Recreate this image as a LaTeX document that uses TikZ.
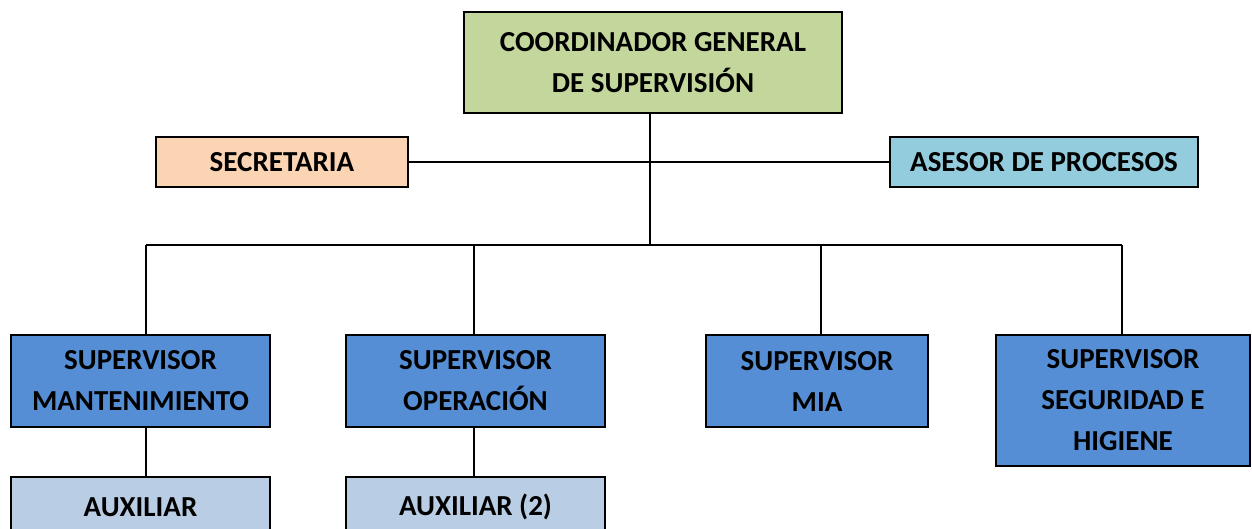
\documentclass[tikz,border=0pt]{standalone}
\usepackage{fontspec}
\setmainfont{Carlito}
\definecolor{cgreen}{HTML}{C3D69B}
\definecolor{corange}{HTML}{FBD4B4}
\definecolor{cteal}{HTML}{93CDDD}
\definecolor{cblue}{HTML}{558ED5}
\definecolor{clight}{HTML}{B9CDE5}
\tikzset{
  box/.style={draw=black, line width=1.6pt, rectangle, align=center, inner sep=0pt,
    font=\fontsize{29}{41}\selectfont\bfseries},
  conn/.style={draw=black, line width=1.3pt}
}
\begin{document}
\begin{tikzpicture}[x=1pt,y=-1pt]
\useasboundingbox (0,0) rectangle (1252,528);
\node[box, fill=cgreen, minimum width=378pt, minimum height=101pt] (coord) at (653,62.5) {COORDINADOR GENERAL\\DE SUPERVISIÓN};
\node[box, fill=corange, minimum width=252pt, minimum height=50pt] (sec) at (282,162) {SECRETARIA};
\node[box, fill=cteal, minimum width=308pt, minimum height=50pt] (ase) at (1044,162) {ASESOR DE PROCESOS};
\node[box, fill=cblue, minimum width=259pt, minimum height=92pt] (mant) at (140.5,381) {SUPERVISOR\\MANTENIMIENTO};
\node[box, fill=cblue, minimum width=259pt, minimum height=92pt] (oper) at (475.5,381) {SUPERVISOR\\OPERACIÓN};
\node[box, fill=cblue, minimum width=222pt, minimum height=92pt] (mia) at (817,381) {SUPERVISOR\\MIA};
\node[box, fill=cblue, minimum width=254pt, minimum height=131pt] (seg) at (1123,400.5) {SUPERVISOR\\SEGURIDAD E\\HIGIENE};
\node[box, fill=clight, minimum width=259pt, minimum height=60pt] (aux1) at (140.5,507) {AUXILIAR};
\node[box, fill=clight, minimum width=259pt, minimum height=60pt] (aux2) at (475.5,507) {AUXILIAR (2)};
\coordinate (trunk) at (650,245);
\coordinate (b1) at (146,245);
\coordinate (b2) at (474,245);
\coordinate (b3) at (821,245);
\coordinate (b4) at (1122,245);
\draw[conn] (sec.east) -- (ase.west);
\draw[conn] (trunk |- coord.south) -- (trunk);
\draw[conn] (b1) -- (b4);
\draw[conn] (b1) -- (b1 |- mant.north);
\draw[conn] (b2) -- (b2 |- oper.north);
\draw[conn] (b3) -- (b3 |- mia.north);
\draw[conn] (b4) -- (b4 |- seg.north);
\draw[conn] (b1 |- mant.south) -- (b1 |- aux1.north);
\draw[conn] (b2 |- oper.south) -- (b2 |- aux2.north);
\end{tikzpicture}
\end{document}
